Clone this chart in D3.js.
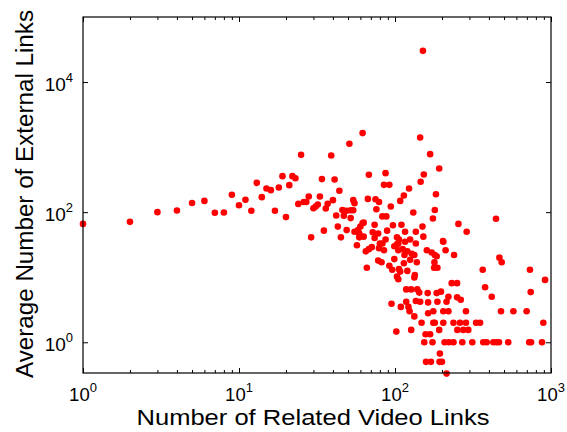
<!DOCTYPE html>
<html>
<head>
<meta charset="utf-8">
<script src="https://cdn.jsdelivr.net/npm/d3@7"></script>
<style>
  html, body { margin: 0; padding: 0; background: #fff; }
  svg { display: block; }
  text { font-family: "Liberation Sans", Arial, sans-serif; fill: #000; }
</style>
</head>
<body>
<svg id="chart" width="567" height="432"></svg>
<script>
// ---- data ----
const relatedLinks = [
  1,2,3,4,5,6,7,8,9,10,11,12,13,14,15,16,17,18,19,20,21,22,23,24,25,26,27,28,29,30,
  31,32,33,34,35,36,37,39,40,41,42,43,44,45,46,47,47,49,49,51,52,52,54,54,55,55,57,58,59,59,
  60,62,62,63,63,65,66,67,68,68,71,72,74,74,75,76,78,78,79,79,80,82,83,83,85,85,87,87,88,89,
  92,92,94,95,96,97,99,99,102,103,103,103,105,105,105,106,106,108,108,109,110,112,114,114,115,116,116,118,118,120,
  120,122,123,124,125,125,127,127,128,131,133,133,133,134,136,136,136,138,139,143,145,145,146,148,150,151,152,153,154,157,
  158,160,162,163,163,168,168,170,172,174,175,176,176,178,179,180,180,180,183,185,185,187,187,192,192,193,194,197,200,203,
  204,204,204,208,211,214,214,220,220,222,231,237,237,239,250,250,251,255,261,264,270,274,285,285,288,295,313,331,351,365,
  368,378,387,417,427,444,448,464,467,478,483,532,574,698,725,733,741,745,876,893,916
];
const avgExternalLinks = [
  66,71,100,106,138,149,98,99,185,128,155,105,282,170,231,218,105,239,358,84,260,358,333,134,760,143,143,174,41,115,
  122,131,174,322,52,114,135,743,153,318,89,60,213,41,108,105,88,105,53,1124,107,81,107,153,137,50,31,53,47,41,
  60,68,1641,69,42,25,14,160,375,27,29,49,64,40,158,111,47,18,143,28,33,17,86,33,263,26,398,38,86,52,
  263,15,122,3.9,13,63,30,19,1.46,41,32,10.2,33,26,9.3,38,13.3,149,12.2,3.5,64,27,180,16.4,22,50,35,6.5,4.2,25,
  12.5,3.5,231,3,38,18.5,6.5,1.55,23,99,22,9.9,2.5,10.8,50,33,4.3,17,6.5,5.8,1406,4.2,293,2,60,30200,42,379,1,1.33,
  0.5,26,5.7,4.1,2.8,780,1.33,0.5,24,1,80,3,2,14,17,108,22,2,189,21,5.7,14,4.2,469,1.55,0.5,0.67,6,0.5,36,
  35,3,2,1,26,4.2,0.33,5,3,1,8.1,2,1,22,8.1,4.9,1.55,66,2,4.5,1,1.55,3,2,50,1.55,1,2,2,13,
  1,7,1,5,1,79,1,1,20,3,17,1,3,3,1,13,5.9,1,1,2,9.1
];
const xTickValues = [1, 10, 100, 1000];
const xTickExponents = ["0", "1", "2", "3"];
const yTickValues = [1, 100, 10000];
const yTickExponents = ["0", "2", "4"];
const xDomain = [1, 1000];
const yDomain = [0.337, 100000];
const xTitle = "Number of Related Video Links";
const yTitle = "Average Number of External Links";

// ---- layout ----
const L = 83, R = 551, T = 17, B = 373;
const svg = d3.select("#chart");

const x = d3.scaleLog().domain(xDomain).range([L, R]);
const y = d3.scaleLog().domain(yDomain).range([B, T]);

// minor x ticks
const xMinor = [];
for (let d = 1; d < 1000; d *= 10) for (let k = 2; k <= 9; k++) xMinor.push(d * k);

// points
svg.append("g")
  .selectAll("circle")
  .data(relatedLinks.map((v, i) => [v, avgExternalLinks[i]]))
  .join("circle")
  .attr("cx", d => x(d[0]))
  .attr("cy", d => y(d[1]))
  .attr("r", 3.3)
  .attr("fill", "#ff0000");

// axes (ticks inward)
function styleAxis(g) {
  g.select(".domain").remove();
  g.selectAll(".tick line").attr("stroke", "#000").attr("stroke-width", 1);
  g.selectAll(".tick text").remove();
}
svg.append("g").attr("transform", `translate(0,${B})`)
  .call(d3.axisBottom(x).tickValues(xTickValues).tickSizeInner(-5).tickFormat("")).call(styleAxis);
svg.append("g").attr("transform", `translate(0,${B})`)
  .call(d3.axisBottom(x).tickValues(xMinor).tickSizeInner(-3).tickFormat("")).call(styleAxis);
svg.append("g").attr("transform", `translate(0,${T})`)
  .call(d3.axisTop(x).tickValues(xTickValues).tickSizeInner(-5).tickFormat("")).call(styleAxis);
svg.append("g").attr("transform", `translate(0,${T})`)
  .call(d3.axisTop(x).tickValues(xMinor).tickSizeInner(-3).tickFormat("")).call(styleAxis);
svg.append("g").attr("transform", `translate(${L},0)`)
  .call(d3.axisLeft(y).tickValues(yTickValues).tickSizeInner(-5).tickFormat("")).call(styleAxis);
svg.append("g").attr("transform", `translate(${R},0)`)
  .call(d3.axisRight(y).tickValues(yTickValues).tickSizeInner(-5).tickFormat("")).call(styleAxis);

// frame
svg.append("rect")
  .attr("x", L).attr("y", T).attr("width", R - L).attr("height", B - T)
  .attr("fill", "none").attr("stroke", "#000").attr("stroke-width", 1.2);

// tick labels
const xl = svg.append("g");
xTickValues.forEach((v, i) => {
  const t = xl.append("text")
    .attr("x", x(v)).attr("y", 400.5)
    .attr("text-anchor", "middle")
    .attr("font-size", 18.5);
  t.append("tspan").text("10");
  t.append("tspan").attr("dy", -9).attr("font-size", 13).text(xTickExponents[i]);
});
const yl = svg.append("g");
yTickValues.forEach((v, i) => {
  const t = yl.append("text")
    .attr("x", 73).attr("y", y(v) + 8.5)
    .attr("text-anchor", "end")
    .attr("font-size", 19);
  t.append("tspan").text("10");
  t.append("tspan").attr("dy", -9).attr("font-size", 13).text(yTickExponents[i]);
});

// titles
svg.append("text")
  .attr("x", 313).attr("y", 425)
  .attr("text-anchor", "middle")
  .attr("font-size", 21.5)
  .attr("textLength", 353).attr("lengthAdjust", "spacingAndGlyphs")
  .text(xTitle);
svg.append("text")
  .attr("transform", "translate(33,194) rotate(-90)")
  .attr("text-anchor", "middle")
  .attr("font-size", 23)
  .attr("textLength", 368).attr("lengthAdjust", "spacingAndGlyphs")
  .text(yTitle);
</script>
</body>
</html>
